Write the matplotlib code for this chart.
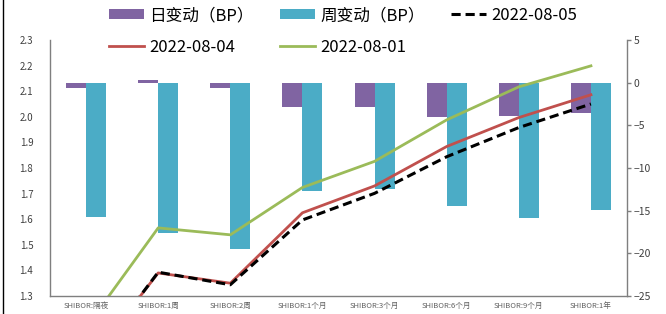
import numpy as np
import matplotlib
matplotlib.use("Agg")
import matplotlib.pyplot as plt
from matplotlib.lines import Line2D

plt.rcParams['font.family'] = ['Noto Sans CJK SC', 'DejaVu Sans']

# data
tenors = ["SHIBOR:隔夜", "SHIBOR:1周", "SHIBOR:2周", "SHIBOR:1个月",
          "SHIBOR:3个月", "SHIBOR:6个月", "SHIBOR:9个月", "SHIBOR:1年"]
daily_chg = [-0.6, 0.3, -0.6, -2.8, -2.9, -4.0, -3.9, -3.6]          # BP
weekly_chg = [-15.7, -17.6, -19.5, -12.7, -12.5, -14.4, -15.9, -14.9]  # BP
rate_0805 = [1.02, 1.393, 1.344, 1.597, 1.701, 1.844, 1.958, 2.050]
rate_0804 = [1.026, 1.390, 1.350, 1.625, 1.730, 1.884, 1.997, 2.086]
rate_0801 = [1.177, 1.566, 1.539, 1.724, 1.826, 1.988, 2.117, 2.199]

c_purple = "#8064A2"
c_cyan = "#4BACC6"
c_red = "#C0504D"
c_green = "#9BBB59"
c_axis = "#7f7f7f"

fig = plt.figure(figsize=(6.66, 3.14), dpi=100)
ax = fig.add_axes([50/666, 1-296/314, 577/666, 256/314])
ax2 = ax.twinx()

x = np.arange(len(tenors))
w = 0.277
ax2.bar(x - w/2, daily_chg, width=w, color=c_purple, label="日变动（BP）")
ax2.bar(x + w/2, weekly_chg, width=w, color=c_cyan, label="周变动（BP）")
ax2.set_ylim(-25, 5)
ax2.set_yticks(range(-25, 6, 5))

ax.plot(x, rate_0805, color="black", lw=2.2, ls=(0, (3, 1.6)), label="2022-08-05", zorder=4)
ax.plot(x, rate_0804, color=c_red, lw=2, label="2022-08-04", zorder=3)
ax.plot(x, rate_0801, color=c_green, lw=2, label="2022-08-01", zorder=2)
ax.set_ylim(1.3, 2.3)
ax.set_yticks(np.arange(1.3, 2.31, 0.1))
ax.set_yticklabels(["%.1f" % v for v in np.arange(1.3, 2.31, 0.1)])
ax.set_xlim(-0.5, len(tenors) - 0.5)
ax.set_xticks(x)
ax.set_xticklabels(tenors)

# lines above bars
ax.set_zorder(ax2.get_zorder() + 1)
ax.patch.set_visible(False)

for a in (ax, ax2):
    a.spines['top'].set_visible(False)
    for s in ('left', 'right', 'bottom'):
        a.spines[s].set_color(c_axis)
        a.spines[s].set_linewidth(1)
ax.spines['right'].set_visible(False)
ax2.spines['left'].set_visible(False)
ax2.spines['bottom'].set_visible(False)

ax.tick_params(axis='y', length=0, pad=12, labelsize=7, labelcolor="#404040")
ax.tick_params(axis='x', length=0, pad=4, labelsize=5.5, labelcolor="#606060")
ax2.tick_params(axis='y', length=3, width=1, color=c_axis, pad=1.5, labelsize=7.5, labelcolor="#404040")

h_bar, l_bar = ax2.get_legend_handles_labels()
h_ln, l_ln = ax.get_legend_handles_labels()
# fill row-wise: [日, 周, 08-05] / [08-04, 08-01]
handles = [h_bar[0], h_ln[1], h_bar[1], h_ln[2], h_ln[0]]
labels = [l_bar[0], l_ln[1], l_bar[1], l_ln[2], l_ln[0]]
fig.legend(handles, labels, ncol=3, loc='upper left',
           bbox_to_anchor=(109/666, 1 - 7/314), frameon=False,
           fontsize=12, handlelength=2.1, handleheight=0.6,
           labelspacing=0.9, columnspacing=1.6, handletextpad=0.3,
           borderpad=0, borderaxespad=0)

# frame edge on the left of the screenshot
fig.add_artist(Line2D([3/666, 3/666], [0, 1], color="black", lw=1, transform=fig.transFigure))

fig.savefig("out.png", dpi=100)
